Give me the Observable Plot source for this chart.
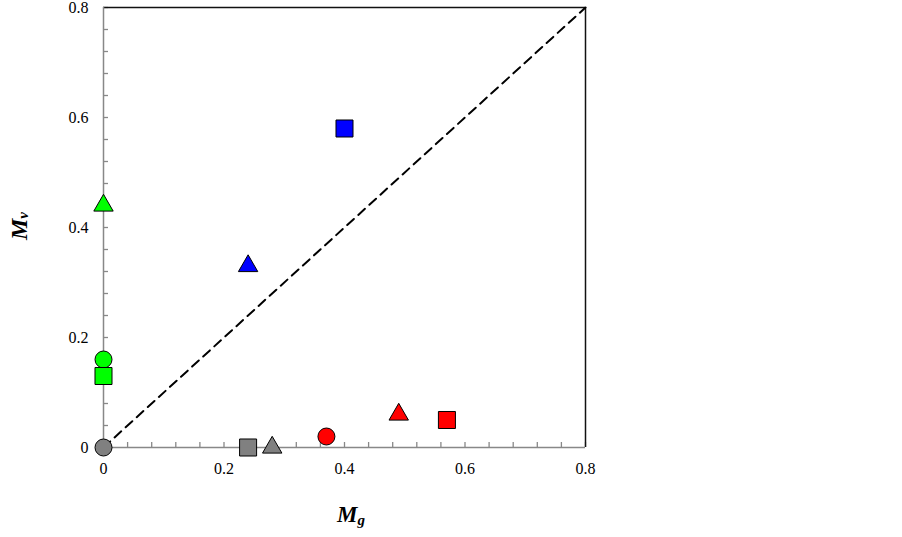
<!DOCTYPE html>
<html>
<head>
<meta charset="utf-8">
<script src="https://cdn.jsdelivr.net/npm/d3@7"></script>
<script src="https://cdn.jsdelivr.net/npm/@observablehq/plot@0.6"></script>
<style>
  body { margin: 0; background: #ffffff; }
  #chart svg { display: block; }
  #chart svg text { font-family: "Liberation Serif", "Times New Roman", serif; }
</style>
</head>
<body>
<div id="chart"></div>
<script>
// ---- data ----
const mg     = [0,      0,        0,        0,        0.24,     0.28,     0.37,     0.49,     0.57,     0.40,     0.24];
const mv     = [0.44,   0.16,     0.13,     0,        0,        0,        0.02,     0.06,     0.05,     0.58,     0.33];
const shapes = ["triangle","circle","square","circle","square","triangle","circle","triangle","square","square","triangle"];
const colors = ["#00ff00","#00ff00","#00ff00","#808080","#808080","#808080","#ff0000","#ff0000","#ff0000","#0000ff","#0000ff"];
const axisDomain = [0, 0.8];
const tickLabels = [0, 0.2, 0.4, 0.6, 0.8];
const minorTicks = [0, 0.04, 0.08, 0.12, 0.16, 0.2, 0.24, 0.28, 0.32, 0.36, 0.4, 0.44, 0.48, 0.52, 0.56, 0.6, 0.64, 0.68, 0.72, 0.76, 0.8];

const points = mg.map((x, i) => ({x, y: mv[i], shape: shapes[i], color: colors[i]}));
const diag = axisDomain.map(v => ({x: v, y: v}));
const fmt = d => d === 0 ? "0" : d.toFixed(1);
const radius = {circle: 8.5, square: 9.6, triangle: 7.2};
const dotsOf = s => Plot.dot(points.filter(d => d.shape === s), {
  x: "x", y: "y", symbol: s, r: radius[s], fill: "color", stroke: "#000", strokeWidth: 1
});
const font = "Liberation Serif, Times New Roman, serif";

const plot = Plot.plot({
  width: 902,
  height: 537,
  marginLeft: 103,
  marginRight: 317,
  marginTop: 7,
  marginBottom: 90,
  x: {domain: axisDomain},
  y: {domain: axisDomain},
  style: {fontFamily: font, fontSize: "16px", color: "#000", background: "#fff"},
  marks: [
    // minor inward ticks
    Plot.axisX({ticks: minorTicks, tickSize: 5, dy: -5, fill: "none", stroke: "#888", strokeWidth: 1.3, label: null}),
    Plot.axisY({ticks: minorTicks, tickSize: 5, dx: 5, fill: "none", stroke: "#888", strokeWidth: 1.3, label: null}),
    // tick labels
    Plot.axisX({ticks: tickLabels, tickSize: 0, tickPadding: 15, tickFormat: fmt, fontSize: 16, fill: "#000", label: null}),
    Plot.axisY({ticks: tickLabels, tickSize: 0, tickPadding: 15, tickFormat: fmt, fontSize: 16, fill: "#000", label: null}),
    // frame: gray left/bottom, black top/right
    Plot.ruleX([axisDomain[1]], {stroke: "#111", strokeWidth: 1.5}),
    Plot.ruleY([axisDomain[1]], {stroke: "#111", strokeWidth: 1.5}),
    Plot.ruleX([axisDomain[0]], {stroke: "#888", strokeWidth: 1.5}),
    Plot.ruleY([axisDomain[0]], {stroke: "#888", strokeWidth: 1.5}),
    // 1:1 dashed line
    Plot.line(diag, {x: "x", y: "y", stroke: "#000", strokeWidth: 2, strokeDasharray: "9,6"}),
    // points
    dotsOf("circle"),
    dotsOf("square"),
    dotsOf("triangle")
  ]
});

document.getElementById("chart").appendChild(plot);

const svg = d3.select(plot);
svg.selectAll("text").attr("font-family", font);

// axis titles with subscripts
const xt = svg.append("text")
  .attr("x", 351).attr("y", 522)
  .attr("text-anchor", "middle")
  .attr("font-family", font).attr("font-weight", "bold").attr("font-style", "italic")
  .attr("font-size", 23).attr("fill", "#000");
xt.append("tspan").text("M");
xt.append("tspan").attr("dy", 3).attr("font-size", 15).text("g");

const yt = svg.append("text")
  .attr("transform", "translate(27,226) rotate(-90)")
  .attr("text-anchor", "middle")
  .attr("font-family", font).attr("font-weight", "bold").attr("font-style", "italic")
  .attr("font-size", 24).attr("fill", "#000");
yt.append("tspan").text("M");
yt.append("tspan").attr("dy", 1).attr("font-size", 15).text("v");
</script>
</body>
</html>
